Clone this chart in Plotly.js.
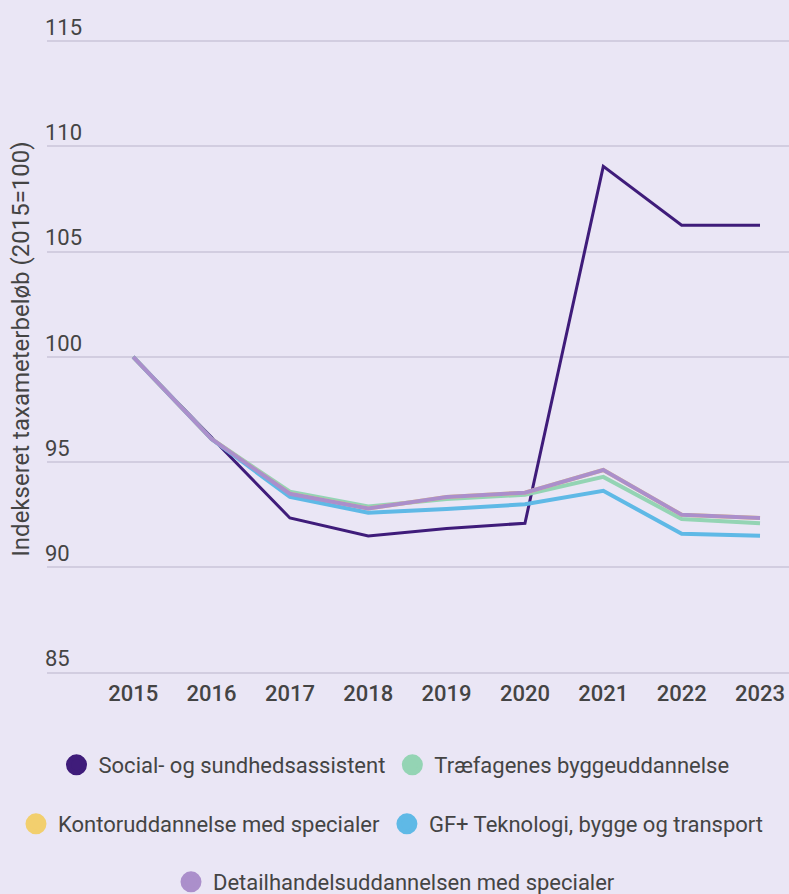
<!DOCTYPE html>
<html>
<head>
<meta charset="utf-8">
<script src="https://cdn.plot.ly/plotly-3.0.1.min.js"></script>
<style>html,body{margin:0;padding:0;background:#eae6f5;}#chart{width:789px;height:894px;}</style>
</head>
<body>
<div id="chart"></div>
<script>
const years = [2015, 2016, 2017, 2018, 2019, 2020, 2021, 2022, 2023];
const social = [100, 96.2, 92.35, 91.5, 91.85, 92.1, 109.05, 106.25, 106.25];
const traefag = [100, 96.1, 93.6, 92.9, 93.25, 93.45, 94.3, 92.3, 92.1];
const kontor = [100, 96.1, 93.5, 92.8, 93.35, 93.55, 94.63, 92.5, 92.35];
const gfTek = [100, 96.1, 93.35, 92.6, 92.78, 93.0, 93.64, 91.6, 91.5];
const detail = [100, 96.1, 93.5, 92.8, 93.35, 93.55, 94.63, 92.5, 92.35];
const yTicks = [85, 90, 95, 100, 105, 110, 115];

const names = ["Social- og sundhedsassistent", "Træfagenes byggeuddannelse", "Kontoruddannelse med specialer", "GF+ Teknologi, bygge og transport", "Detailhandelsuddannelsen med specialer"];
const colors = ["#3f1c7a", "#94d4b4", "#f2cf6e", "#5fb9e6", "#ab8fcb"];
const widths = [3, 4, 4, 4, 4];
const series = [social, traefag, kontor, gfTek, detail];
const legendIds = ["legend", "legend", "legend2", "legend2", "legend3"];

const traces = [];
series.forEach((s, i) => {
  traces.push({x: years, y: s, type: 'scatter', mode: 'lines', name: names[i],
    line: {color: colors[i], width: widths[i]}, showlegend: false, hoverinfo: 'x+y+name'});
});
series.forEach((s, i) => {
  traces.push({x: [null], y: [null], type: 'scatter', mode: 'markers', name: names[i],
    marker: {color: colors[i], size: 16, symbol: 'circle', line: {color: colors[i], width: 5}},
    legend: legendIds[i], showlegend: true});
});

const font = {family: 'Roboto, sans-serif', color: '#444444'};
const legendBase = {orientation: 'h', xref: 'container', yref: 'container', x: 0.5, xanchor: 'center', yanchor: 'middle',
  bgcolor: 'rgba(0,0,0,0)', font: {family: 'Roboto, sans-serif', size: 22, color: '#444444'}, itemsizing: 'trace', itemwidth: 34};

const layout = {
  width: 789, height: 894,
  paper_bgcolor: '#eae6f5', plot_bgcolor: '#eae6f5',
  margin: {l: 47, r: 0, t: 20, b: 216},
  font: font,
  showlegend: true,
  xaxis: {range: [2013.9, 2023.37], tickvals: years, ticktext: years.map(String), showgrid: false, zeroline: false,
    showline: false, ticks: '', tickfont: {size: 22, color: '#444444', weight: 500}, fixedrange: true},
  yaxis: {range: [84.75, 116], tickvals: yTicks, ticktext: yTicks.map(String), showgrid: true, gridcolor: '#d2cde0', gridwidth: 2,
    zeroline: false, showline: false, ticks: '', ticklabelposition: 'inside', ticklabelshift: -14, ticklabelstandoff: -5,
    ticklabeloverflow: 'allow', tickfont: {size: 22, color: '#444444'},
    title: {text: 'Indekseret taxameterbeløb (2015=100)', font: {size: 24, color: '#444444'}, standoff: 8}, automargin: false},
  legend: Object.assign({}, legendBase, {y: 129/894}),
  legend2: Object.assign({}, legendBase, {xref: 'paper', yref: 'paper', x: -0.0445, xanchor: 'left', y: -0.2219}),
  legend3: Object.assign({}, legendBase, {y: 12/894})
};

Plotly.newPlot('chart', traces, layout, {displayModeBar: false, staticPlot: true});
</script>
</body>
</html>
